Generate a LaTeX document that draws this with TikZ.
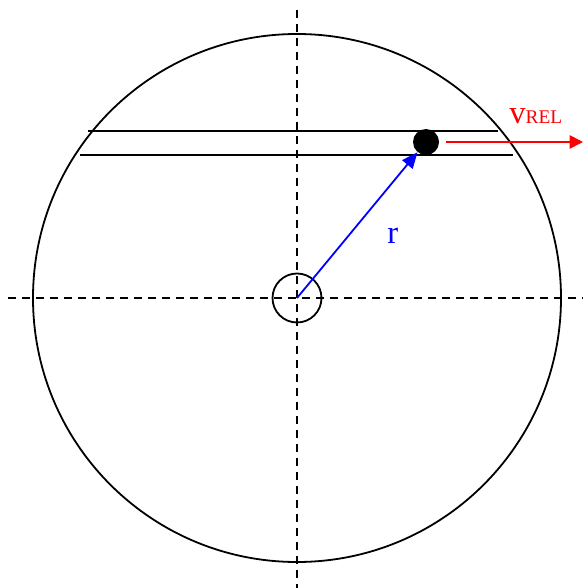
\documentclass[tikz,border=0pt]{standalone}
\usepackage{fontspec}
\setmainfont{Liberation Serif}
\usetikzlibrary{arrows.meta}
\begin{document}
\begin{tikzpicture}[x=0.75pt,y=-0.75pt,
  thin line/.style={line width=1.35pt},
  axis line/.style={line width=1.35pt,dash pattern=on 6pt off 4.5pt},
  lbl/.style={inner sep=0pt,anchor=base west,font=\fontsize{24.5}{28}\selectfont}]
\useasboundingbox (0,0) rectangle (583,588);
\coordinate (O) at (297,298);
% axes
\coordinate (hl) at (8,298); \coordinate (hr) at (583,298);
\coordinate (vt) at (297,10); \coordinate (vb) at (297,588);
\draw[axis line] (hl) -- (hr);
\draw[axis line] (vt) -- (vb);
% circles
\node[thin line,draw,circle,minimum size=396pt,inner sep=0pt] (big) at (O) {};
\node[thin line,draw,circle,minimum size=36.75pt,inner sep=0pt] (hub) at (O) {};
% channel lines
\coordinate (t1) at (88,131); \coordinate (t2) at (498,131);
\coordinate (b1) at (80,155); \coordinate (b2) at (513,155);
\draw[thin line] (t1) -- (t2);
\draw[thin line] (b1) -- (b2);
% ball
\node[circle,fill=black,minimum size=19.5pt,inner sep=0pt] (ball) at (426,142) {};
% radius arrow
\draw[blue,line width=1.35pt,-{Triangle[length=12pt,width=10pt]}] (O) -- (ball);
\node[lbl,text=blue] (r) at (387,243) {r};
% velocity arrow
\coordinate (vend) at (583,142);
\draw[red,line width=1.35pt,shorten <=5pt,-{Triangle[length=10pt,width=10pt]}] (ball.east) -- (vend);
\node[lbl,text=red] (vrel) at (509,123) {v{\fontsize{14.5}{16}\selectfont REL}};
\end{tikzpicture}
\end{document}
